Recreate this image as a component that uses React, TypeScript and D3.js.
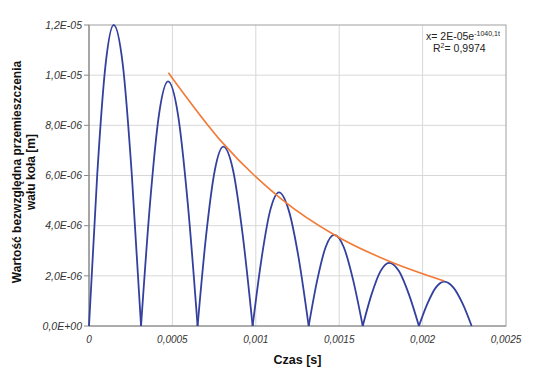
import React from "react";
import * as d3 from "d3";

// time [s] and |displacement| [m], one array per arc of the signal
const arcTimes = [
  [0, 0.000049, 0.000099, 0.000148, 0.000203, 0.000257, 0.000312],
  [0.000312, 0.000366, 0.00042, 0.000474, 0.000533, 0.000592, 0.000651],
  [0.000651, 0.000702, 0.000754, 0.000805, 0.000864, 0.000922, 0.000981],
  [0.000981, 0.001034, 0.001086, 0.001139, 0.001198, 0.001258, 0.001317],
  [0.001317, 0.001368, 0.001419, 0.00147, 0.001527, 0.001584, 0.001641],
  [0.001641, 0.001694, 0.001747, 0.0018, 0.001859, 0.001918, 0.001978],
  [0.001978, 0.002029, 0.002079, 0.00213, 0.002185, 0.00224, 0.002294],
];
const arcValues = [
  [0, 6.0e-6, 1.04e-5, 1.2e-5, 1.04e-5, 6.0e-6, 0],
  [0, 4.9e-6, 8.45e-6, 9.75e-6, 8.45e-6, 4.9e-6, 0],
  [0, 3.6e-6, 6.2e-6, 7.15e-6, 6.2e-6, 3.6e-6, 0],
  [0, 2.67e-6, 4.6e-6, 5.33e-6, 4.6e-6, 2.67e-6, 0],
  [0, 1.82e-6, 3.15e-6, 3.63e-6, 3.15e-6, 1.82e-6, 0],
  [0, 1.26e-6, 2.18e-6, 2.52e-6, 2.18e-6, 1.26e-6, 0],
  [0, 0.89e-6, 1.53e-6, 1.77e-6, 1.53e-6, 0.89e-6, 0],
];

// exponential trend line
const trendTimes = [0.000476, 0.0008, 0.00115, 0.00148, 0.0018, 0.00213];
const trendValues = [1.01e-5, 7.31e-6, 5.08e-6, 3.6e-6, 2.58e-6, 1.79e-6];

const xTicks = [0, 0.0005, 0.001, 0.0015, 0.002, 0.0025];
const xTickLabels = ["0", "0,0005", "0,001", "0,0015", "0,002", "0,0025"];
const yTicks = [0, 2e-6, 4e-6, 6e-6, 8e-6, 1e-5, 1.2e-5];
const yTickLabels = ["0,0E+00", "2,0E-06", "4,0E-06", "6,0E-06", "8,0E-06", "1,0E-05", "1,2E-05"];

const W = 544;
const H = 374;
const left = 89;
const right = 506;
const top = 25;
const bottom = 326;

export default function App() {
  const x = d3.scaleLinear().domain([0, 0.0025]).range([left, right]);
  const y = d3.scaleLinear().domain([0, 1.2e-5]).range([bottom, top]);

  const arcLine = d3
    .line<[number, number]>()
    .x((d) => x(d[0]))
    .y((d) => y(d[1]))
    .curve(d3.curveMonotoneX);

  const trendLine = d3
    .line<[number, number]>()
    .x((d) => x(d[0]))
    .y((d) => y(d[1]))
    .curve(d3.curveMonotoneX);

  const font = "Arial, 'Liberation Sans', sans-serif";

  return (
    <svg
      width={W}
      height={H}
      style={{ position: "absolute", left: 0, top: 0, background: "#fff" }}
      fontFamily={font}
    >
      {/* grid */}
      {xTicks.slice(1, -1).map((t) => (
        <line key={"gx" + t} x1={x(t)} x2={x(t)} y1={top} y2={bottom} stroke="#d8d8d8" strokeWidth={1} />
      ))}
      {yTicks.slice(1, -1).map((t) => (
        <line key={"gy" + t} x1={left} x2={right} y1={y(t)} y2={y(t)} stroke="#d8d8d8" strokeWidth={1} />
      ))}
      {/* plot frame */}
      <rect x={left} y={top} width={right - left} height={bottom - top} fill="none" stroke="#a0a0a0" strokeWidth={1} />
      <line x1={left} x2={left} y1={top} y2={bottom} stroke="#8a8a8a" strokeWidth={1.2} />
      <line x1={left} x2={right} y1={bottom} y2={bottom} stroke="#8a8a8a" strokeWidth={1.2} />

      {/* y ticks */}
      {yTicks.map((t, i) => (
        <g key={"ty" + t}>
          <line x1={left - 5} x2={left} y1={y(t)} y2={y(t)} stroke="#8a8a8a" />
          <text
            x={left - 7}
            y={y(t)}
            dy="0.35em"
            textAnchor="end"
            fontSize={10.5}
            fontStyle="italic"
            fill="#333"
          >
            {yTickLabels[i]}
          </text>
        </g>
      ))}
      {/* x ticks */}
      {xTicks.map((t, i) => (
        <text
          key={"tx" + t}
          x={x(t)}
          y={343}
          textAnchor="middle"
          fontSize={10}
          fontStyle="italic"
          fill="#333"
        >
          {xTickLabels[i]}
        </text>
      ))}

      {/* signal */}
      {arcTimes.map((ts, i) => (
        <path
          key={"arc" + i}
          d={arcLine(ts.map((t, j) => [t, arcValues[i][j]] as [number, number])) || ""}
          fill="none"
          stroke="#33409e"
          strokeWidth={1.8}
          strokeLinejoin="round"
        />
      ))}

      {/* trend */}
      <path
        d={trendLine(trendTimes.map((t, j) => [t, trendValues[j]] as [number, number])) || ""}
        fill="none"
        stroke="#f27a36"
        strokeWidth={1.6}
      />

      {/* equation */}
      <text x={426} y={40} fontSize={10.5} fill="#222">
        x= 2E-05e
        <tspan dy={-4} fontSize={7}>-1040,1t</tspan>
      </text>
      <text x={433} y={52} fontSize={10.5} fill="#222">
        R<tspan dy={-4} fontSize={7}>2</tspan>
        <tspan dy={4}>= 0,9974</tspan>
      </text>

      {/* axis titles */}
      <text x={(left + right) / 2} y={364} textAnchor="middle" fontSize={12.5} fontWeight="bold" fill="#111">
        Czas [s]
      </text>
      <text transform="translate(21,172) rotate(-90)" textAnchor="middle" fontSize={12} fontWeight="bold" fill="#111">
        <tspan x={0} dy={0}>Wartość bezwzględna przemieszczenia</tspan>
        <tspan x={0} dy={14}>wału koła [m]</tspan>
      </text>
    </svg>
  );
}
